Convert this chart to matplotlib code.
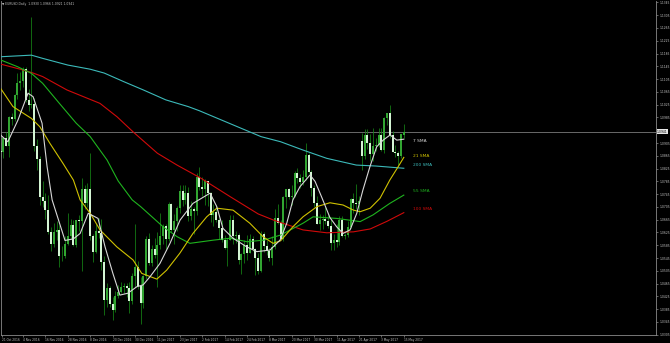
import numpy as np
import matplotlib
matplotlib.use('Agg')
import matplotlib.pyplot as plt
import matplotlib.transforms as mtransforms

# EURUSD daily candles, 21 Oct 2016 -> 15 May 2017 (one bar per trading day)
opens = [1.0928, 1.0882, 1.0880, 1.0877, 1.0920, 1.0897, 1.0985, 1.0979, 1.1055, 1.1094,
         1.1098, 1.1138, 1.1040, 1.1025, 1.1026, 1.0897, 1.0856, 1.0735, 1.0723, 1.0695,
         1.0625, 1.0588, 1.0628, 1.0634, 1.0550, 1.0552, 1.0588, 1.0614, 1.0647, 1.0585,
         1.0663, 1.0662, 1.0761, 1.0718, 1.0760, 1.0614, 1.0563, 1.0631, 1.0623, 1.0534,
         1.0414, 1.0452, 1.0400, 1.0382, 1.0427, 1.0438, 1.0455, 1.0456, 1.0450, 1.0409,
         1.0490, 1.0517, 1.0457, 1.0403, 1.0488, 1.0605, 1.0531, 1.0573, 1.0554, 1.0585,
         1.0614, 1.0645, 1.0605, 1.0714, 1.0633, 1.0662, 1.0702, 1.0755, 1.0728, 1.0749,
         1.0678, 1.0698, 1.0692, 1.0798, 1.0766, 1.0762, 1.0785, 1.0749, 1.0679, 1.0689,
         1.0665, 1.0640, 1.0602, 1.0577, 1.0603, 1.0665, 1.0615, 1.0616, 1.0540, 1.0558,
         1.0587, 1.0562, 1.0605, 1.0574, 1.0545, 1.0505, 1.0620, 1.0583, 1.0567, 1.0544,
         1.0580, 1.0670, 1.0655, 1.0605, 1.0735, 1.0762, 1.0737, 1.0740, 1.0810, 1.0797,
         1.0783, 1.0800, 1.0866, 1.0815, 1.0764, 1.0716, 1.0651, 1.0665, 1.0667, 1.0662,
         1.0645, 1.0592, 1.0601, 1.0596, 1.0665, 1.0614, 1.0616, 1.0643, 1.0730, 1.0717,
         1.0715, 1.0910, 1.0863, 1.0930, 1.0905, 1.0872, 1.0896, 1.0900, 1.0930, 1.0883,
         1.0983, 1.0998, 1.0930, 1.0877, 1.0873, 1.0863, 1.0930]
highs = [1.0937, 1.0906, 1.0909, 1.0925, 1.0941, 1.0988, 1.1000, 1.1059, 1.1124, 1.1128,
         1.1143, 1.1144, 1.1073, 1.1300, 1.1046, 1.0917, 1.0863, 1.0786, 1.0748, 1.0743,
         1.0643, 1.0654, 1.0660, 1.0648, 1.0584, 1.0615, 1.0686, 1.0666, 1.0664, 1.0665,
         1.0680, 1.0796, 1.0773, 1.0780, 1.0874, 1.0621, 1.0652, 1.0669, 1.0667, 1.0550,
         1.0468, 1.0456, 1.0422, 1.0443, 1.0462, 1.0469, 1.0467, 1.0468, 1.0470, 1.0498,
         1.0652, 1.0536, 1.0485, 1.0493, 1.0615, 1.0622, 1.0585, 1.0607, 1.0626, 1.0685,
         1.0653, 1.0650, 1.0719, 1.0716, 1.0684, 1.0708, 1.0775, 1.0773, 1.0773, 1.0767,
         1.0724, 1.0705, 1.0810, 1.0829, 1.0798, 1.0793, 1.0786, 1.0752, 1.0715, 1.0710,
         1.0670, 1.0664, 1.0617, 1.0609, 1.0679, 1.0679, 1.0630, 1.0624, 1.0562, 1.0600,
         1.0617, 1.0619, 1.0615, 1.0577, 1.0560, 1.0630, 1.0625, 1.0602, 1.0577, 1.0615,
         1.0700, 1.0715, 1.0665, 1.0738, 1.0762, 1.0764, 1.0775, 1.0818, 1.0827, 1.0808,
         1.0820, 1.0906, 1.0874, 1.0819, 1.0775, 1.0738, 1.0684, 1.0680, 1.0705, 1.0681,
         1.0668, 1.0621, 1.0650, 1.0678, 1.0678, 1.0623, 1.0660, 1.0734, 1.0750, 1.0778,
         1.0738, 1.0937, 1.0949, 1.0950, 1.0933, 1.0952, 1.0920, 1.0951, 1.0952, 1.0986,
         1.0999, 1.1023, 1.0942, 1.0900, 1.0880, 1.0934, 1.0966]
lows = [1.0859, 1.0862, 1.0860, 1.0858, 1.0895, 1.0861, 1.0960, 1.0973, 1.1043, 1.1072,
        1.1079, 1.1033, 1.1004, 1.1016, 1.0881, 1.0822, 1.0710, 1.0704, 1.0668, 1.0619,
        1.0568, 1.0580, 1.0600, 1.0518, 1.0535, 1.0545, 1.0585, 1.0605, 1.0583, 1.0581,
        1.0630, 1.0505, 1.0700, 1.0705, 1.0601, 1.0534, 1.0560, 1.0609, 1.0507, 1.0367,
        1.0391, 1.0392, 1.0352, 1.0375, 1.0419, 1.0434, 1.0437, 1.0423, 1.0374, 1.0400,
        1.0454, 1.0447, 1.0340, 1.0389, 1.0478, 1.0524, 1.0520, 1.0546, 1.0453, 1.0572,
        1.0590, 1.0573, 1.0598, 1.0627, 1.0589, 1.0630, 1.0687, 1.0707, 1.0713, 1.0660,
        1.0663, 1.0620, 1.0680, 1.0759, 1.0740, 1.0710, 1.0709, 1.0657, 1.0645, 1.0658,
        1.0605, 1.0596, 1.0572, 1.0521, 1.0600, 1.0590, 1.0591, 1.0525, 1.0495, 1.0530,
        1.0538, 1.0560, 1.0568, 1.0492, 1.0496, 1.0500, 1.0565, 1.0553, 1.0535, 1.0524,
        1.0574, 1.0651, 1.0605, 1.0599, 1.0703, 1.0729, 1.0712, 1.0735, 1.0780, 1.0765,
        1.0774, 1.0790, 1.0810, 1.0740, 1.0705, 1.0650, 1.0633, 1.0637, 1.0651, 1.0638,
        1.0569, 1.0569, 1.0578, 1.0586, 1.0610, 1.0604, 1.0610, 1.0640, 1.0686, 1.0697,
        1.0680, 1.0821, 1.0855, 1.0887, 1.0850, 1.0850, 1.0880, 1.0891, 1.0879, 1.0875,
        1.0960, 1.0922, 1.0877, 1.0860, 1.0837, 1.0858, 1.0921]
closes = [1.0882, 1.0880, 1.0877, 1.0920, 1.0897, 1.0985, 1.0979, 1.1055, 1.1094, 1.1098,
          1.1138, 1.1040, 1.1025, 1.1026, 1.0897, 1.0856, 1.0735, 1.0723, 1.0695, 1.0625,
          1.0588, 1.0628, 1.0634, 1.0550, 1.0552, 1.0588, 1.0614, 1.0647, 1.0585, 1.0663,
          1.0662, 1.0761, 1.0718, 1.0760, 1.0614, 1.0563, 1.0631, 1.0623, 1.0534, 1.0414,
          1.0452, 1.0400, 1.0382, 1.0427, 1.0438, 1.0455, 1.0456, 1.0450, 1.0409, 1.0490,
          1.0517, 1.0457, 1.0403, 1.0488, 1.0605, 1.0531, 1.0573, 1.0554, 1.0585, 1.0614,
          1.0645, 1.0605, 1.0714, 1.0633, 1.0662, 1.0702, 1.0755, 1.0728, 1.0749, 1.0678,
          1.0698, 1.0692, 1.0798, 1.0766, 1.0762, 1.0785, 1.0749, 1.0679, 1.0689, 1.0665,
          1.0640, 1.0602, 1.0577, 1.0603, 1.0665, 1.0615, 1.0616, 1.0540, 1.0558, 1.0587,
          1.0562, 1.0605, 1.0574, 1.0545, 1.0505, 1.0620, 1.0583, 1.0567, 1.0544, 1.0580,
          1.0670, 1.0655, 1.0605, 1.0735, 1.0762, 1.0737, 1.0740, 1.0810, 1.0797, 1.0783,
          1.0800, 1.0866, 1.0815, 1.0764, 1.0716, 1.0651, 1.0665, 1.0667, 1.0662, 1.0645,
          1.0592, 1.0601, 1.0596, 1.0665, 1.0614, 1.0616, 1.0643, 1.0730, 1.0717, 1.0715,
          1.0725, 1.0863, 1.0930, 1.0905, 1.0872, 1.0896, 1.0900, 1.0930, 1.0883, 1.0983,
          1.0998, 1.0930, 1.0877, 1.0873, 1.0863, 1.0932, 1.0941]

# moving averages (bar index, price)
sma7_idx = [2, 4.6, 8.2, 11.8, 13.6, 16.8, 18.6, 20.4, 25, 28, 30.4, 33.3, 36.8, 39.3, 42.1,
            44.6, 47.5, 50.6, 52.9, 55.4, 58.9, 62.5, 66.1, 70.7, 76.8, 79.2, 81.4, 85, 89.9,
            93.5, 98.2, 101.8, 104.2, 106.4, 108.9, 112.5, 114.3, 116.7, 119.6, 122, 124.3,
            126.8, 129.2, 131.4, 133.9, 136.3, 138.6, 141.1, 143.5, 146]
sma7 = [1.0930, 1.0909, 1.0977, 1.1061, 1.1050, 1.0967, 1.0831, 1.0727, 1.0600, 1.0605,
        1.0622, 1.0685, 1.0669, 1.0580, 1.0497, 1.0429, 1.0435, 1.0455, 1.0461, 1.0487,
        1.0528, 1.0591, 1.0664, 1.0716, 1.0748, 1.0706, 1.0638, 1.0607, 1.0580, 1.0565,
        1.0570, 1.0601, 1.0654, 1.0727, 1.0768, 1.0805, 1.0785, 1.0735, 1.0672, 1.0643,
        1.0622, 1.0633, 1.0685, 1.0758, 1.0831, 1.0893, 1.0914, 1.0930, 1.0914, 1.0917]
sma21_idx = [2, 6.4, 13, 16, 19.6, 24.3, 28, 30.4, 34, 37.5, 43.5, 49.3, 52.4, 57.8, 61.3,
             66, 70.7, 75.6, 79.2, 85, 91, 95.7, 99.3, 102, 106.4, 110, 115, 119.6, 124.3,
             128, 130.4, 134, 137.5, 141, 144, 146]
sma21 = [1.1076, 1.1019, 1.0982, 1.0956, 1.0904, 1.0841, 1.0789, 1.0727, 1.0685, 1.0633,
         1.0580, 1.0539, 1.0497, 1.0479, 1.0507, 1.0560, 1.0622, 1.0674, 1.0701, 1.0695,
         1.0654, 1.0612, 1.0591, 1.0599, 1.0643, 1.0674, 1.0706, 1.0718, 1.0711, 1.0695,
         1.0690, 1.0701, 1.0732, 1.0789, 1.0831, 1.0860]
sma55_idx = [2, 8, 13, 17, 23, 29, 34, 40, 44, 49, 52, 60, 65, 69.6, 78, 84, 90, 96, 102,
             110, 113.6, 122, 130.4, 135, 141, 146]
sma55 = [1.1165, 1.1144, 1.1123, 1.1092, 1.1029, 1.0967, 1.0925, 1.0852, 1.0786, 1.0727,
         1.0706, 1.0643, 1.0612, 1.0591, 1.0601, 1.0607, 1.0596, 1.0601, 1.0617, 1.0654,
         1.0674, 1.0669, 1.0659, 1.0680, 1.0716, 1.0742]
sma100_idx = [2, 9, 13.6, 17, 25.7, 33, 37.5, 43.6, 49.3, 58, 65, 73.5, 84, 94, 100, 110,
              118.5, 128, 134, 140, 146]
sma100 = [1.1152, 1.1136, 1.1124, 1.1113, 1.1071, 1.1045, 1.1029, 1.0987, 1.0940, 1.0873,
          1.0836, 1.0795, 1.0737, 1.0683, 1.0662, 1.0633, 1.0624, 1.0627, 1.0636, 1.0660,
          1.0687]
sma200_idx = [2, 13, 17, 26, 34, 39, 46, 53, 61, 69, 73, 95, 102, 110, 118.5, 129, 136, 146]
sma200 = [1.1175, 1.1180, 1.1170, 1.1149, 1.1136, 1.1124, 1.1097, 1.1071, 1.1040, 1.1019,
          1.1006, 1.0925, 1.0909, 1.0883, 1.0857, 1.0836, 1.0833, 1.0826]

sma_names = ['7 SMA', '21 SMA', '200 SMA', '55 SMA', '100 SMA']
sma_label_prices = [1.0912, 1.0865, 1.0836, 1.0755, 1.0699]

price_ticks = [round(1.1345 - 0.004 * k, 4) for k in range(27)]
date_labels = ['21 Oct 2016', '4 Nov 2016', '16 Nov 2016', '28 Nov 2016', '8 Dec 2016',
               '20 Dec 2016', '30 Dec 2016', '11 Jan 2017', '23 Jan 2017', '2 Feb 2017',
               '14 Feb 2017', '24 Feb 2017', '8 Mar 2017', '20 Mar 2017', '30 Mar 2017',
               '11 Apr 2017', '21 Apr 2017', '3 May 2017', '15 May 2017']
header = '\u25bc EURUSD,Daily  1.0930 1.0966 1.0921 1.0941'
last_price = 1.0941

# colours
BG = '#000000'
FG = '#c4c4c4'
GRID = '#8a8a8a'
WICK = '#168516'
BULL = '#31a531'
BEAR = '#d4f5d4'
C7, C21, C55, C100, C200 = '#d8d8d8', '#d0c200', '#1fb41f', '#d00a0a', '#3cbaba'

fig = plt.figure(figsize=(6.7, 3.43), dpi=100, facecolor=BG)
ax = fig.add_axes([1 / 670, 8 / 343, 655 / 670, 334 / 343], facecolor=BG)

o = np.array(opens)
h = np.array(highs)
l = np.array(lows)
c = np.array(closes)
x = np.arange(len(c))
up = c > o

ax.axhline(last_price, color='#7a7a7a', lw=0.6, zorder=1)
ax.vlines(x, l, h, color=WICK, lw=0.55, zorder=2)
body = np.maximum(np.abs(c - o), 0.00008)
ax.bar(x[up], body[up], bottom=o[up], width=0.65, color=BULL, linewidth=0, zorder=3)
ax.bar(x[~up], body[~up], bottom=c[~up], width=0.65, color=BEAR, linewidth=0, zorder=3)

ax.plot(sma200_idx, sma200, color=C200, lw=0.8, zorder=4)
ax.plot(sma100_idx, sma100, color=C100, lw=0.8, zorder=4)
ax.plot(sma55_idx, sma55, color=C55, lw=0.8, zorder=4)
ax.plot(sma21_idx, sma21, color=C21, lw=0.8, zorder=4)
ax.plot(sma7_idx, sma7, color=C7, lw=0.8, zorder=5)

for name, p, col in zip(sma_names, sma_label_prices, [C7, C21, C200, C55, C100]):
    ax.text(149.3, p, name, color=col, fontsize=3.2, va='center', ha='left')

# pixel mapping of the screenshot: 2.8 px per bar, ~3195 px per price unit
ax.set_xlim(2.14, 236.07)
ax.set_ylim(1.03041, 1.13495)

for s in ['left', 'right', 'bottom']:
    ax.spines[s].set_color(GRID)
    ax.spines[s].set_linewidth(0.6)
ax.spines['top'].set_visible(False)

# the tick label under the current-price box is hidden, as in the terminal
ax.yaxis.tick_right()
ax.set_yticks(price_ticks)
ax.set_yticklabels(['' if abs(v - last_price) < 0.002 else f'{v:.4f}' for v in price_ticks])
ax.tick_params(axis='y', colors=GRID, labelcolor=FG, labelsize=2.2, length=1.5,
               width=0.5, pad=1)

ax.set_xticks([2.6] + list(range(10, 147, 8)))
ax.set_xticklabels(date_labels)
ax.tick_params(axis='x', colors=GRID, labelcolor=FG, labelsize=2.1, length=1.5,
               width=0.5, pad=0.8)
for t in ax.get_xticklabels():
    t.set_ha('left')

trans = mtransforms.blended_transform_factory(ax.transAxes, ax.transData)
ax.text(1.0015, last_price, f'{last_price:.4f}', transform=trans, fontsize=2.2,
        color='black', va='center', ha='left',
        bbox=dict(boxstyle='square,pad=0.15', fc='#e6e6e6', ec='none'))

fig.text(2 / 670, 1 - 3.5 / 343, header, color=FG, fontsize=2.2, va='center', ha='left')

fig.savefig('out.png', dpi=100, facecolor=BG)
